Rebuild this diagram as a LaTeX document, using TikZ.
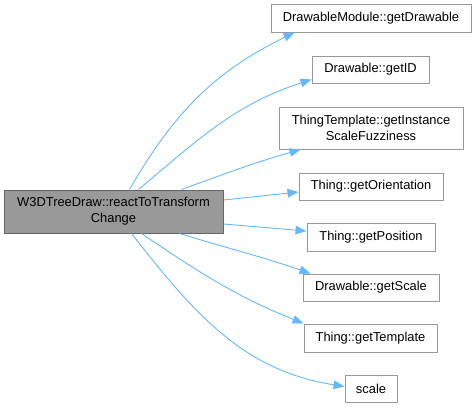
\documentclass[tikz,border=0pt]{standalone}
\usepackage{fontspec}
\setmainfont{Liberation Sans}
\usepackage{tikz}
\usetikzlibrary{arrows.meta}

\definecolor{edgeblue}{HTML}{63B8FF}
\definecolor{boxline}{HTML}{999999}
\definecolor{mainfill}{HTML}{999999}
\definecolor{mainline}{HTML}{666666}

\begin{document}
\begin{tikzpicture}[x=1pt,y=1pt,
  fn/.style={draw=boxline,line width=1pt,fill=white,inner sep=0pt,
    font=\fontsize{12.9}{16}\selectfont,align=center},
  fnmain/.style={fn,draw=mainline,fill=mainfill},
  calls/.style={draw=edgeblue,line width=.9pt,
    -{Triangle[length=11pt,width=8.5pt]}}]
  \useasboundingbox (0,0) rectangle (476,-408);
  % caller
  \node[fnmain,minimum width=219pt,minimum height=43pt] (react) at (113.5,-211.5)
    {W3DTreeDraw::reactToTransform\\Change};
  % callees
  \node[fn,minimum width=200pt,minimum height=28pt] (getdrawable) at (371,-18)
    {DrawableModule::getDrawable};
  \node[fn,minimum width=117pt,minimum height=27pt] (getid) at (370.5,-69.5)
    {Drawable::getID};
  \node[fn,minimum width=184pt,minimum height=42pt] (fuzziness) at (371,-128)
    {ThingTemplate::getInstance\\ScaleFuzziness};
  \node[fn,minimum width=144pt,minimum height=27pt] (orient) at (371,-186.5)
    {Thing::getOrientation};
  \node[fn,minimum width=128pt,minimum height=28pt] (position) at (371,-237)
    {Thing::getPosition};
  \node[fn,minimum width=136pt,minimum height=27pt] (getscale) at (371,-287.5)
    {Drawable::getScale};
  \node[fn,minimum width=133pt,minimum height=28pt] (template) at (370.5,-338)
    {Thing::getTemplate};
  \node[fn,minimum width=52pt,minimum height=27pt] (scale) at (371,-388.5)
    {scale};
  % calls
  \draw[calls] ([xshift=126pt]react.north west) to[out=60,in=206]
    ([xshift=24pt]getdrawable.south west);
  \draw[calls] ([xshift=135pt]react.north west) to[out=40,in=198]
    ([yshift=4pt]getid.south west);
  \draw[calls] ([xshift=178pt]react.north west) to[out=20,in=196]
    ([xshift=22pt]fuzziness.south west);
  \draw[calls] ([yshift=11.5pt]react.east) -- ([yshift=-5.5pt]orient.west);
  \draw[calls] ([yshift=-12.5pt]react.east) -- ([yshift=6pt]position.west);
  \draw[calls] ([xshift=176pt]react.south west) to[out=-17,in=161]
    ([xshift=8pt]getscale.north west);
  \draw[calls] ([xshift=138pt]react.south west) to[out=-34,in=158]
    (template.north west);
  \draw[calls] ([xshift=128pt]react.south west) to[out=-52,in=171]
    ([yshift=2pt]scale.west);
\end{tikzpicture}
\end{document}
